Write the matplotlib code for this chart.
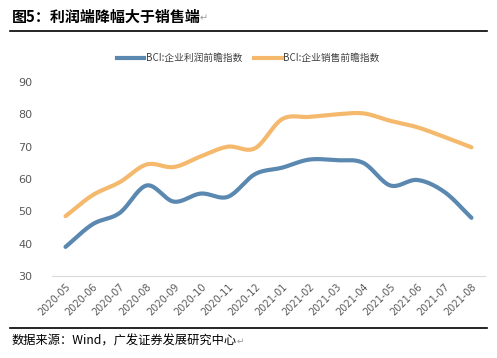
import numpy as np
import matplotlib.pyplot as plt
from matplotlib.lines import Line2D

plt.rcParams['font.family'] = ['Noto Sans CJK SC', 'DejaVu Sans']

# BCI index values, 2020-05 to 2021-08
months = ['2020-05', '2020-06', '2020-07', '2020-08', '2020-09', '2020-10', '2020-11', '2020-12',
          '2021-01', '2021-02', '2021-03', '2021-04', '2021-05', '2021-06', '2021-07', '2021-08']
profit = [39, 46, 49.5, 58, 53, 55.5, 54.5, 61.5, 63.5, 66, 65.8, 65, 58, 59.7, 56, 48]
sales = [48.5, 55, 59, 64.5, 63.7, 67, 70, 69.5, 78.5, 79.2, 80, 80.3, 78, 76, 73, 69.8]

profit_label = 'BCI:企业利润前瞻指数'
sales_label = 'BCI:企业销售前瞻指数'


def smooth(x, y, n=20):
    # Catmull-Rom curve through the points (like Excel's smoothed line)
    x = np.asarray(x, float)
    y = np.asarray(y, float)
    px = np.concatenate([[2 * x[0] - x[1]], x, [2 * x[-1] - x[-2]]])
    py = np.concatenate([[2 * y[0] - y[1]], y, [2 * y[-1] - y[-2]]])
    xs, ys = [], []
    t = np.linspace(0, 1, n, endpoint=False)
    for i in range(1, len(px) - 2):
        for p, out in ((px, xs), (py, ys)):
            p0, p1, p2, p3 = p[i - 1], p[i], p[i + 1], p[i + 2]
            out.extend(0.5 * (2 * p1 + (-p0 + p2) * t + (2 * p0 - 5 * p1 + 4 * p2 - p3) * t ** 2
                              + (-p0 + 3 * p1 - 3 * p2 + p3) * t ** 3))
    xs.append(x[-1])
    ys.append(y[-1])
    return xs, ys


blue = '#5B88B0'
orange = '#F5B96E'

fig = plt.figure(figsize=(4.97, 3.58), dpi=100)
ax = fig.add_axes([52 / 497, 82 / 358, 433 / 497, 194 / 358])

x = np.arange(len(months))
ax.plot(*smooth(x, profit), color=blue, lw=3, solid_capstyle='round')
ax.plot(*smooth(x, sales), color=orange, lw=3, solid_capstyle='round')

ax.set_xlim(-0.5, len(months) - 0.5)
ax.set_ylim(30, 90)
ax.set_yticks(range(30, 91, 10))
ax.set_xticks(x)
ax.set_xticklabels(months, rotation=45, ha='right', rotation_mode='anchor', fontsize=7, color='#595959',
                   family='DejaVu Sans')
ax.tick_params(axis='y', labelsize=8, colors='#595959', length=0, pad=14)
ax.tick_params(axis='x', length=0, pad=4)
for lbl in ax.get_yticklabels():
    lbl.set_family('DejaVu Sans')
for s in ['top', 'right', 'left']:
    ax.spines[s].set_visible(False)
ax.spines['bottom'].set_color('#D9D9D9')

handles = [Line2D([], [], color=blue, lw=3), Line2D([], [], color=orange, lw=3)]
fig.legend(handles, [profit_label, sales_label], loc='center', bbox_to_anchor=(0.5, 1 - 58 / 358),
           ncol=2, frameon=False, fontsize=7, handlelength=2.8, handletextpad=0.2, columnspacing=1.2,
           labelcolor='#404040')

# title and source
fig.text(12 / 497, 1 - 17 / 358, '图5：利润端降幅大于销售端', fontsize=10.8, fontweight='bold', va='center')
fig.text(200 / 497, 1 - 18 / 358, '↵', fontsize=7, color='#999999', va='center')
fig.add_artist(Line2D([10 / 497, 487 / 497], [1 - 31 / 358] * 2, color='black', lw=1.2))
fig.add_artist(Line2D([10 / 497, 487 / 497], [1 - 328 / 358] * 2, color='black', lw=1.2))
fig.text(12 / 497, 1 - 341 / 358, '数据来源：Wind，广发证券发展研究中心', fontsize=8.8, va='center')
fig.text(237 / 497, 1 - 341 / 358, '↵', fontsize=6.5, color='#999999', va='center')

fig.savefig('out.png', dpi=100)
